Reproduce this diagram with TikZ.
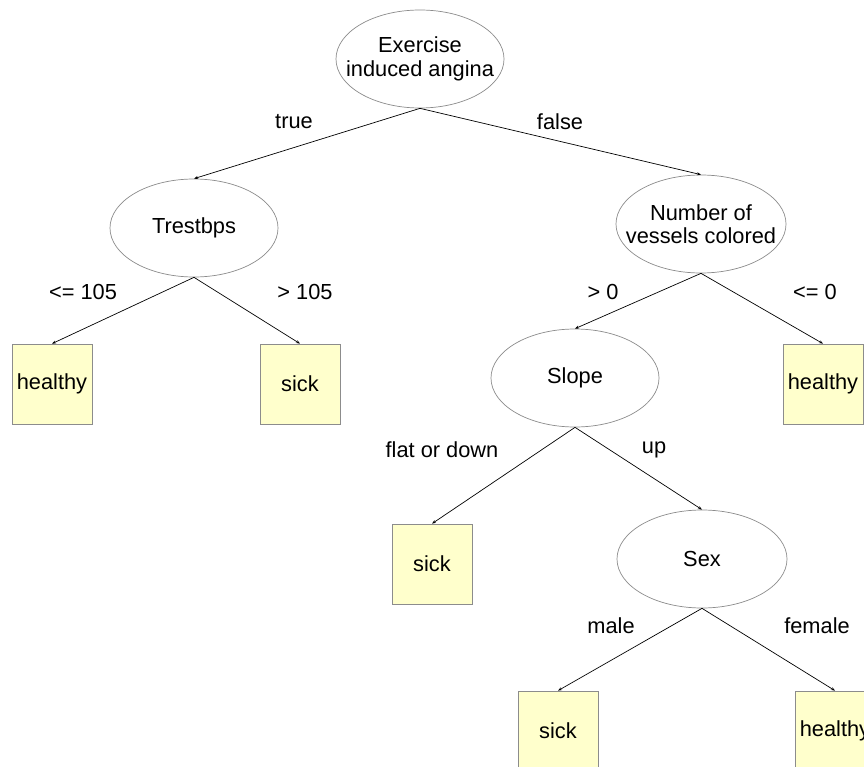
\documentclass[tikz,border=0pt]{standalone}
\usepackage{fontspec}
\setmainfont{Liberation Sans}
\usetikzlibrary{shapes.geometric,arrows.meta}
\definecolor{leaffill}{RGB}{255,255,204}
\definecolor{edgegray}{RGB}{140,140,140}
\tikzset{
  ell/.style={ellipse, draw=edgegray, line width=0.7pt, minimum width=168pt, minimum height=98pt, inner sep=0pt},
  leaf/.style={rectangle, draw=edgegray, fill=leaffill, line width=0.7pt, minimum width=80pt, minimum height=80pt, inner sep=0pt},
  arr/.style={draw=black, line width=0.7pt, -{Stealth[length=4pt,width=3pt]}},
  lbl/.style={inner sep=0pt},
}
\begin{document}
\begin{tikzpicture}[x=1pt,y=-1pt,font=\fontsize{21.8}{23.5}\selectfont]
\clip (0,0) rectangle (864,767);
\fill[white] (0,0) rectangle (864,767);
% inner nodes
\node[ell, label={[align=center]center:Exercise\\induced angina}] (root) at (420,59) {};
\node[ell, label={center:Trestbps}] (tb) at (194,228) {};
\node[ell, minimum width=170pt, label={[align=center]center:Number of\\vessels colored}] (nv) at (701,224) {};
\node[ell, label={center:Slope}] (sl) at (575,378) {};
\node[ell, minimum width=170pt, label={center:Sex}] (sx) at (702,559) {};
% leaves
\node[leaf] (l1) at (52,384) {healthy};
\node[leaf] (l2) at (300,384) {sick};
\node[leaf] (l3) at (823,384) {healthy};
\node[leaf] (l4) at (432,564) {sick};
\node[leaf] (l5) at (558,731) {sick};
\node[leaf] (l6) at (835,731) {healthy};
% edges
\draw[arr] (root.south) -- (tb.north);
\draw[arr] (root.south) -- (nv.north);
\draw[arr] (tb.south) -- (l1.north);
\draw[arr] (tb.south) -- (l2.north);
\draw[arr] (nv.south) -- (sl.north);
\draw[arr] (nv.south) -- (l3.north);
\draw[arr] (sl.south) -- (l4.north);
\draw[arr] (sl.south) -- (sx.north);
\draw[arr] (sx.south) -- (l5.north);
\draw[arr] (sx.south) -- (l6.north);
% edge labels
\node[lbl] (e1) at (294,122) {true};
\node[lbl] (e2) at (560,122) {false};
\node[lbl] (e3) at (83,292) {<= 105};
\node[lbl] (e4) at (305,292) {> 105};
\node[lbl] (e5) at (603,292) {> 0};
\node[lbl] (e6) at (815,292) {<= 0};
\node[lbl] (e7) at (442,450) {flat or down};
\node[lbl] (e8) at (654,450) {up};
\node[lbl] (e9) at (611,626) {male};
\node[lbl] (e10) at (817,626) {female};
\end{tikzpicture}
\end{document}
